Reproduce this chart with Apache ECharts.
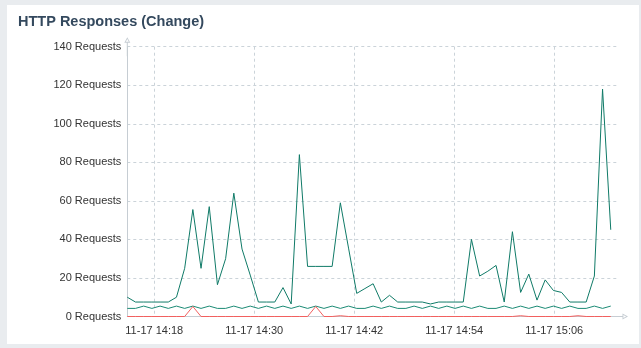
<!DOCTYPE html>
<html><head><meta charset="utf-8">
<script src="https://cdn.jsdelivr.net/npm/echarts@6/dist/echarts.min.js"></script>
<style>
html,body{margin:0;padding:0;background:#e9ecef;width:641px;height:348px;overflow:hidden}
#panel{position:absolute;left:7px;top:5px;width:632px;height:339px;background:#fff}
#chart{width:632px;height:339px}
</style></head><body>
<div id="panel"><div id="chart"></div></div>
<script>
const DAY = '2024-11-17';
const times = ['14:14:46','14:15:45','14:16:44','14:17:43','14:18:42','14:19:41','14:20:40','14:21:39','14:22:38','14:23:37',
  '14:24:36','14:25:35','14:26:34','14:27:33','14:28:32','14:29:31','14:30:30','14:31:29','14:32:28','14:33:27',
  '14:34:26','14:35:25','14:36:24','14:37:23','14:38:22','14:39:21','14:40:20','14:41:19','14:42:18','14:43:17',
  '14:44:16','14:45:15','14:46:14','14:47:13','14:48:12','14:49:11','14:50:10','14:51:09','14:52:08','14:53:07',
  '14:54:06','14:55:05','14:56:04','14:57:03','14:58:02','14:59:01','15:00:00','15:00:59','15:01:58','15:02:57',
  '15:03:56','15:04:55','15:05:54','15:06:53','15:07:52','15:08:51','15:09:50','15:10:49','15:11:48','15:12:47'];
const mainValues = [10,7.5,7.5,7.5,7.5,7.5,10,25,55.5,25,
  57,16.5,30,64,35,21.5,7.5,7.5,7.5,15,
  6.5,84,26,26,26,26,59,35.5,12,14.5,
  17,7.5,11,7.5,7.5,7.5,7.5,6.5,7.5,7.5,
  7.5,7.5,40,21,23.5,26.5,7.5,44,12.5,22,
  8.5,19,13.5,12.5,7.5,7.5,7.5,21,118,45];
const baseValues = [4.2,4.2,5.4,4.2,5.4,4.2,5.4,4.2,5.4,4.2,
  5.4,4.2,4.2,5.4,4.2,5.4,4.2,5.4,4.2,5.4,
  4.2,5.4,4.2,5.4,4.2,5.4,4.2,5.4,4.2,4.2,
  5.4,4.2,5.4,4.2,4.2,5.4,4.2,5.4,4.2,5.4,
  4.2,5.4,4.2,5.4,4.2,4.2,5.4,4.2,5.4,4.2,
  5.4,4.2,5.4,4.2,5.4,4.2,4.2,5.4,4.2,5.4];
const errorValues = [0,0,0,0,0,0,0,0,5.2,0,
  0,0,0,0,0,0,0,0,0,0,
  0,0,0,5.2,0,0,0.4,0,0,0,
  0,0,0,0,0,0,0,0,0,0,
  0,0,0,0,0,0,0,0,0.4,0,
  0,0,0,0,0,0.4,0,0,0,0];
const xTickTimes = ['14:18','14:30','14:42','14:54','15:06'];
const xAxisEnd = '15:13:32';
const yMax = 140, yStep = 20;

const ts = t => new Date(DAY + 'T' + (t.length === 5 ? t + ':00' : t)).getTime();
const pair = vals => times.map((t, i) => [ts(t), vals[i]]);
const tickVals = xTickTimes.map(ts);
const pad = n => (n < 10 ? '0' : '') + n;
const fmt = v => { const d = new Date(v); return pad(d.getMonth() + 1) + '-' + pad(d.getDate()) + ' ' + pad(d.getHours()) + ':' + pad(d.getMinutes()); };

function arrowPath(len) {
  return 'path://M3 0 L6 5.5 L0 5.5 Z M3 1.9 L1.5 4.6 L4.5 4.6 Z M2.5 5.5 L3.5 5.5 L3.5 ' + len + ' L2.5 ' + len + ' Z';
}
const axisGrey = '#c6cdd3';
const chart = echarts.init(document.getElementById('chart'), null, {renderer: 'canvas'});
chart.setOption({
  animation: false,
  textStyle: {fontFamily: 'Liberation Sans, Arial, sans-serif'},
  title: {
    text: 'HTTP Responses (Change)', left: 6, top: 4,
    textStyle: {fontSize: 14.5, fontWeight: 'bold', color: '#34495e', fontFamily: 'Liberation Sans, Arial, sans-serif'}
  },
  grid: {left: 120.3, top: 41.7, right: 22, bottom: 27.5, containLabel: false},
  xAxis: {
    type: 'value', min: ts(times[0]), max: ts(xAxisEnd), scale: true,
    axisLine: {show: true, lineStyle: {color: axisGrey, width: 1}, symbol: ['none', arrowPath(22)], symbolSize: [6, 22]},
    axisTick: {show: false, customValues: tickVals},
    axisLabel: {customValues: tickVals, formatter: fmt, color: '#333', fontSize: 11, margin: 9},
    splitLine: {show: true, lineStyle: {color: '#cbd3d9', type: [3, 3], width: 1}}
  },
  yAxis: {
    type: 'value', min: 0, max: yMax, interval: yStep,
    axisLine: {show: true, lineStyle: {color: axisGrey, width: 1}, symbol: ['none', arrowPath(19)], symbolSize: [6, 19]},
    axisTick: {show: false},
    axisLabel: {formatter: '{value} Requests', color: '#333', fontSize: 11, margin: 6},
    splitLine: {show: true, lineStyle: {color: '#cbd3d9', type: [3, 3], width: 1}}
  },
  series: [
    {name: 'Main', type: 'line', data: pair(mainValues), showSymbol: false, lineStyle: {width: 1, color: '#0f7a67'}, itemStyle: {color: '#0f7a67'}},
    {name: 'Base', type: 'line', data: pair(baseValues), showSymbol: false, lineStyle: {width: 1, color: '#1a8a74'}, itemStyle: {color: '#1a8a74'}},
    {name: 'Errors', type: 'line', data: pair(errorValues), showSymbol: false, lineStyle: {width: 1, color: '#f2605f'}, itemStyle: {color: '#f2605f'}}
  ]
});
</script></body></html>
